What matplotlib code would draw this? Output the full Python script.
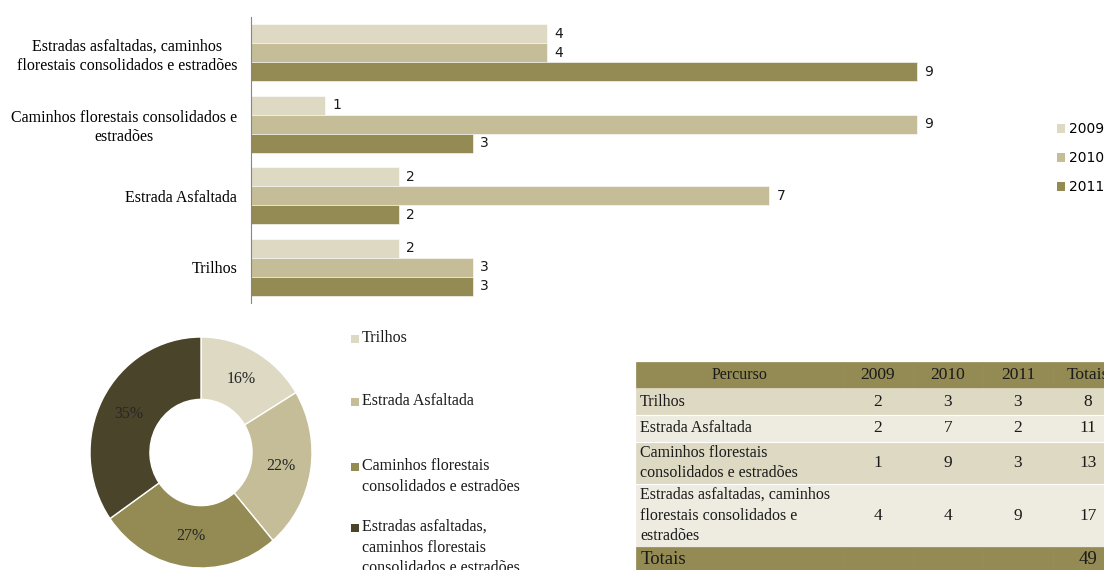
import matplotlib.pyplot as plt
from matplotlib.patches import Rectangle, Patch
import numpy as np

plt.rcParams['font.family'] = ['Liberation Serif', 'DejaVu Serif']

# dados
percursos = ["Trilhos", "Estrada Asfaltada",
             "Caminhos florestais consolidados e\nestradões",
             "Estradas asfaltadas, caminhos\nflorestais consolidados e estradões"]
anos = ["2009", "2010", "2011"]
v2009 = [2, 2, 1, 4]
v2010 = [3, 7, 9, 4]
v2011 = [3, 2, 3, 9]
totais = [8, 11, 13, 17]
total_geral = 49

legenda_pizza = ["Trilhos", "Estrada Asfaltada",
                 "Caminhos florestais\nconsolidados e estradões",
                 "Estradas asfaltadas,\ncaminhos florestais\nconsolidados e estradões"]
percursos_tabela = ["Trilhos", "Estrada Asfaltada",
                    "Caminhos florestais\nconsolidados e estradões",
                    "Estradas asfaltadas, caminhos\nflorestais consolidados e\nestradões"]

cores_anos = ["#DDD9C3", "#C4BD97", "#948A54"]
cores_pizza = ["#DDD9C3", "#C4BD97", "#948A54", "#4A452A"]

W, H = 1104, 570
fig = plt.figure(figsize=(W / 100, H / 100), dpi=100)

# ---- barras ----
ax = fig.add_axes([251 / W, 1 - 303 / H, 740 / W, 286 / H])
y = np.arange(len(percursos))
h = 19 / 72
for k, (vals, cor) in enumerate(zip([v2009, v2010, v2011], cores_anos)):
    pos = y + h - k * h
    ax.barh(pos, vals, height=h, color=cor, edgecolor='white', linewidth=0.4, label=anos[k])
    for p, v in zip(pos, vals):
        ax.text(v + 0.1, p, str(v), va='center', ha='left', fontsize=10,
                family='DejaVu Sans', color='#1a1a1a')
ax.set_xlim(0, 10)
ax.set_ylim(-0.5, 3.5)
ax.set_yticks(y, percursos, fontsize=11.5)
for t in ax.get_yticklabels():
    t.set_multialignment('center')
    t.set_linespacing(1.25)
ax.tick_params(axis='y', length=0, pad=10)
ax.set_xticks([])
for s in ['top', 'right', 'bottom']:
    ax.spines[s].set_visible(False)
ax.spines['left'].set_color('#868686')

handles = [Patch(facecolor=c, edgecolor='none') for c in cores_anos]
fig.legend(handles, anos, loc='upper left', bbox_to_anchor=(1057 / W, 1 - 122 / H),
           frameon=False, borderpad=0, borderaxespad=0, handlelength=0.6, handleheight=0.6,
           handletextpad=0.3, labelspacing=1.08, prop={'family': 'DejaVu Sans', 'size': 10})

# ---- donut ----
ax2 = fig.add_axes([90 / W, 1 - 568 / H, 222 / W, 231 / H])
ax2.pie(totais, colors=cores_pizza, startangle=90, counterclock=False, radius=1,
        wedgeprops=dict(width=0.54, edgecolor='white', linewidth=1),
        autopct=lambda p: f"{p:.0f}%", pctdistance=0.73,
        textprops=dict(fontsize=11.5, color='#262626'))
ax2.set_aspect('auto')
ax2.set_xlim(-1, 1)
ax2.set_ylim(-1, 1)

linhas_y = [339, 402, 467, 528]
for lab, cor, yy in zip(legenda_pizza, cores_pizza, linhas_y):
    fig.add_artist(Rectangle((351 / W, 1 - (yy + 4) / H), 8 / W, 8 / H,
                             transform=fig.transFigure, facecolor=cor, edgecolor='none'))
    fig.text(362 / W, 1 - (yy - 9) / H, lab, ha='left', va='top', fontsize=11.5,
             linespacing=1.38, color='#1a1a1a')

# ---- tabela ----
ax3 = fig.add_axes([0, 0, 1, 1])
ax3.axis('off')
ax3.set_xlim(0, W)
ax3.set_ylim(H, 0)
cabecalho = ["Percurso"] + anos + ["Totais"]
linhas = [cabecalho]
for i in range(len(percursos_tabela)):
    linhas.append([percursos_tabela[i], str(v2009[i]), str(v2010[i]), str(v2011[i]), str(totais[i])])
linhas.append(["Totais", "", "", "", str(total_geral)])
fundo = ["#948A54", "#DDD9C3", "#EEECE1", "#DDD9C3", "#EEECE1", "#948A54"]
cell_colours = [[f] * 5 for f in fundo]
larguras = [207, 70, 70, 70, 70]
alturas = [26, 27, 27, 42, 63, 26]
x0, x1 = 636, 636 + sum(larguras)
y_top = 362
tab = ax3.table(cellText=linhas, cellColours=cell_colours,
                colWidths=[l / sum(larguras) for l in larguras],
                bbox=[x0 / W, 1 - (y_top + sum(alturas)) / H, (x1 - x0) / W, sum(alturas) / H],
                cellLoc='center', transform=ax3.transAxes)
tab.auto_set_font_size(False)
tab.set_fontsize(11.5)
for (r, c), cell in tab.get_celld().items():
    cell.set_height(alturas[r])
    cell.set_edgecolor(fundo[r])
    cell.set_linewidth(0.5)
    txt = cell.get_text()
    txt.set_color('#1a1a1a')
    txt.set_linespacing(1.4)
    if c > 0:
        txt.set_fontsize(12.5)
    if c == 0 and r > 0:
        txt.set_ha('left')
        cell.PAD = 0.02
    if r == len(linhas) - 1:
        txt.set_fontsize(13.5)

# finas linhas brancas entre as linhas de dados da tabela
for yb in (y_top + np.cumsum(alturas))[1:4]:
    ax3.plot([x0, x1], [yb, yb], color='white', lw=0.8)

fig.savefig('out.png', dpi=100)
